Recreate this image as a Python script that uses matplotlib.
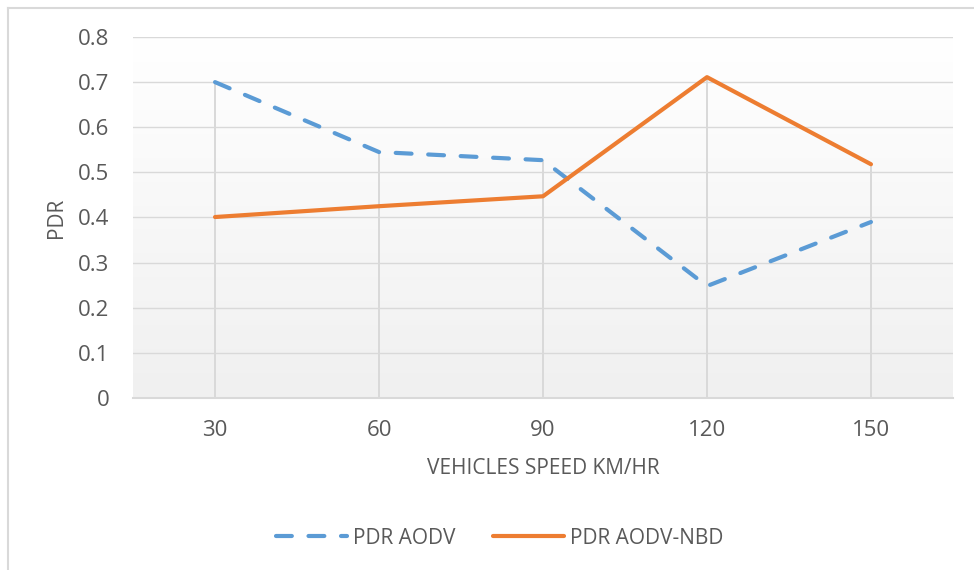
import numpy as np
import matplotlib.pyplot as plt
from matplotlib.lines import Line2D

plt.rcParams['font.family'] = ['Open Sans', 'DejaVu Sans']

# vehicle speed categories and packet delivery ratio per protocol
speeds = ["30", "60", "90", "120", "150"]
pdr_aodv = [0.70, 0.545, 0.527, 0.248, 0.39]
pdr_aodv_nbd = [0.401, 0.425, 0.447, 0.711, 0.518]

text_color = "#595959"
grid_color = "#d9d9d9"

fig = plt.figure(figsize=(9.74, 5.70), dpi=100)
ax = fig.add_axes([0.1366, 0.3018, 0.8418, 0.6333])

x = np.arange(len(speeds))

# plot area gradient, white at top fading to light gray
grad = np.linspace(0, 1, 256).reshape(-1, 1)
ax.imshow(grad, extent=(-0.5, len(speeds) - 0.5, 0, 0.8), aspect="auto",
          cmap=plt.matplotlib.colors.LinearSegmentedColormap.from_list(
              "bg", ["#f0f0f0", "#ffffff"]),
          origin="lower", zorder=0)

# horizontal gridlines
for yv in np.arange(0.1, 0.81, 0.1):
    ax.axhline(yv, color=grid_color, lw=1.0, zorder=1)

# drop lines from the axis up to the highest series value
tops = np.maximum(pdr_aodv, pdr_aodv_nbd)
ax.vlines(x, 0, tops, color=grid_color, lw=1.4, zorder=1)

ax.plot(x, pdr_aodv, color="#5b9bd5", lw=3.0, linestyle=(0, (3.8, 4.0)),
        dash_capstyle="round", solid_capstyle="round", label="PDR AODV", zorder=3)
ax.plot(x, pdr_aodv_nbd, color="#ed7d31", lw=3.0, solid_capstyle="round",
        solid_joinstyle="round", label="PDR AODV-NBD", zorder=3)

ax.set_xlim(-0.5, len(speeds) - 0.5)
ax.set_ylim(0, 0.8)
ax.set_yticks(np.arange(0, 0.81, 0.1))
ax.set_yticklabels(["0", "0.1", "0.2", "0.3", "0.4", "0.5", "0.6", "0.7", "0.8"])
ax.set_xticks(x)
ax.set_xticklabels(speeds)
ax.tick_params(length=0, labelsize=16, colors=text_color)
ax.tick_params(axis="y", pad=17)
ax.tick_params(axis="x", pad=16)

for side in ["top", "left", "right"]:
    ax.spines[side].set_visible(False)
ax.spines["bottom"].set_color(grid_color)
ax.spines["bottom"].set_linewidth(1.5)
ax.spines["bottom"].set_zorder(2)

ax.set_xlabel("VEHICLES SPEED KM/HR", fontsize=15, color=text_color, labelpad=12)
ax.set_ylabel("PDR", fontsize=15, color=text_color, labelpad=8)

leg = ax.legend(loc="center", bbox_to_anchor=(0.513, 0.056), bbox_transform=fig.transFigure,
                ncol=2, frameon=False, fontsize=15, labelcolor=text_color,
                handlelength=3.4, handletextpad=0.3, columnspacing=1.8)

# chart frame edges
fig.add_artist(Line2D([8 / 974, 8 / 974], [0, 1 - 8 / 570], color=grid_color, lw=1.5,
                      transform=fig.transFigure))
fig.add_artist(Line2D([8 / 974, 1], [1 - 8 / 570, 1 - 8 / 570], color=grid_color, lw=1.5,
                      transform=fig.transFigure))

fig.savefig("out.png", dpi=100)
